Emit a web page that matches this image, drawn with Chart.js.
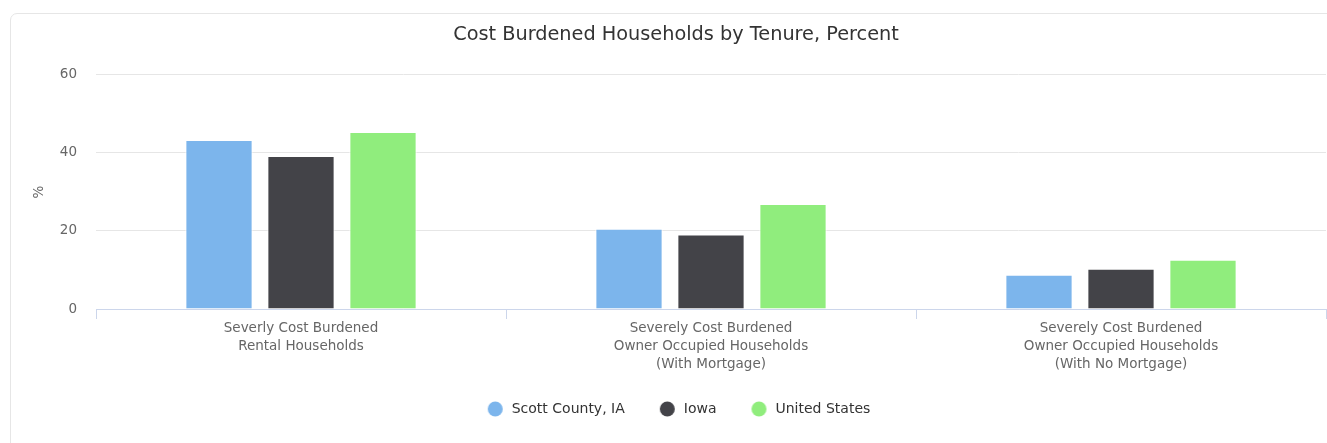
<!DOCTYPE html>
<html>
<head>
<meta charset="utf-8">
<script src="https://cdn.jsdelivr.net/npm/chart.js@4"></script>
<style>
    html, body { margin: 0; padding: 0; background: #fff; overflow: hidden; }
    .card {
        position: absolute; left: 10px; top: 13px;
        width: 1360px; height: 460px;
        border: 1px solid #e6e6e6; border-radius: 7px;
    }
    #chart { position: absolute; left: 0; top: 0; }
</style>
</head>
<body>
<div class="card"></div>
<canvas id="chart" width="1327" height="443"></canvas>
<script>
// Cost burdened households chart
const categories = [
    ['Severly Cost Burdened', 'Rental Households'],
    ['Severely Cost Burdened', 'Owner Occupied Households', '(With Mortgage)'],
    ['Severely Cost Burdened', 'Owner Occupied Households', '(With No Mortgage)']
];
const seriesNames = ['Scott County, IA', 'Iowa', 'United States'];
const scottCounty = [43.3, 20.6, 8.8];
const iowa = [39.2, 19.1, 10.3];
const unitedStates = [45.4, 26.9, 12.6];
const yTicks = [0, 20, 40, 60];

const colors = ['#7cb5ec', '#434348', '#90ed7d'];
const fontFamily = '"DejaVu Sans", Verdana, sans-serif';

// legend markers: circle with a bit of room on each side
const MARKER_W = 23;
function makeMarker(color) {
    const c = document.createElement('canvas');
    c.width = MARKER_W;
    c.height = 16;
    const mctx = c.getContext('2d');
    mctx.fillStyle = color;
    mctx.beginPath();
    mctx.arc(6 + 7.5, 8, 7.5, 0, Math.PI * 2);
    mctx.fill();
    return c;
}
const markers = colors.map(makeMarker);

new Chart(document.getElementById('chart').getContext('2d'), {
    type: 'bar',
    data: {
        labels: categories,
        datasets: [scottCounty, iowa, unitedStates].map((values, i) => ({
            label: seriesNames[i],
            data: values,
            backgroundColor: colors[i],
            borderColor: '#ffffff',
            borderWidth: 1,
            categoryPercentage: 0.6,
            barPercentage: 0.82
        }))
    },
    options: {
        responsive: false,
        animation: false,
        events: [],
        layout: { padding: { left: 26, right: 1, top: 0, bottom: 17 } },
        plugins: {
            title: {
                display: true,
                text: 'Cost Burdened Households by Tenure, Percent',
                color: '#333333',
                font: { family: fontFamily, size: 19.3, weight: 'normal' },
                padding: { top: 23.4, bottom: 28.4 }
            },
            legend: {
                position: 'bottom',
                labels: {
                    usePointStyle: true,
                    pointStyleWidth: MARKER_W,
                    boxHeight: 11,
                    padding: 29,
                    color: '#333333',
                    font: { family: fontFamily, size: 14 },
                    generateLabels: chart => {
                        const items = Chart.defaults.plugins.legend.labels.generateLabels(chart);
                        items.forEach((item, i) => { item.pointStyle = markers[i]; });
                        return items;
                    }
                }
            },
            tooltip: { enabled: false }
        },
        scales: {
            x: {
                afterFit: scale => { scale.height = 64; },
                grid: {
                    offset: true,
                    drawOnChartArea: false,
                    drawTicks: true,
                    tickLength: 10,
                    color: '#ccd6eb'
                },
                border: { color: '#ccd6eb', width: 1 },
                ticks: {
                    color: '#666666',
                    padding: 0,
                    maxRotation: 0,
                    autoSkip: false,
                    font: { family: fontFamily, size: 13.5, lineHeight: '18px' }
                }
            },
            y: {
                min: 0,
                max: 60,
                afterBuildTicks: scale => {
                    scale.ticks = yTicks.map(v => ({ value: v }));
                },
                afterFit: scale => { scale.width = 70; },
                grid: { color: '#e6e6e6', drawTicks: false },
                border: { display: false },
                ticks: {
                    color: '#666666',
                    padding: 19,
                    font: { family: fontFamily, size: 13.5 }
                },
                title: {
                    display: true,
                    text: '%',
                    color: '#666666',
                    padding: { top: 5, bottom: 0 },
                    font: { family: fontFamily, size: 13.5 }
                }
            }
        }
    }
});
</script>
</body>
</html>
